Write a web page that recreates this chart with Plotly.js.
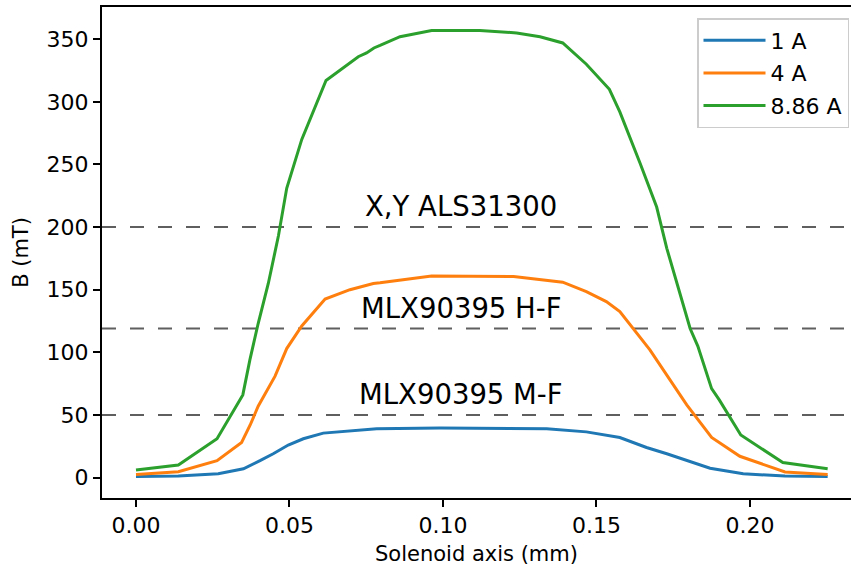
<!DOCTYPE html>
<html>
<head>
<meta charset="utf-8">
<script src="https://cdn.plot.ly/plotly-3.0.1.min.js"></script>
<style>html,body{margin:0;padding:0;background:#fff;overflow:hidden}</style>
</head>
<body>
<div id="chart" style="width:851px;height:572px"></div>
<script>
// Series 1 A
const x1A = [0, 0.0138, 0.0268, 0.035, 0.0404, 0.0447, 0.0496, 0.0545, 0.061, 0.0697, 0.0784, 0.099, 0.1338, 0.1467, 0.1576, 0.1663, 0.1729, 0.187, 0.1978, 0.2114, 0.2253];
const y1A = [0.8, 1.2, 3, 7, 13.5, 19, 26, 31, 35.5, 37.5, 39, 39.5, 39, 36.5, 32, 24, 19, 7.5, 3, 1.2, 0.8];
// Series 4 A
const x4A = [0, 0.0138, 0.0264, 0.0344, 0.0372, 0.0398, 0.0453, 0.0491, 0.054, 0.0616, 0.0697, 0.0773, 0.0795, 0.0963, 0.123, 0.139, 0.1467, 0.1532, 0.1576, 0.1674, 0.1794, 0.1875, 0.1967, 0.2114, 0.2253];
const y4A = [2.5, 4.7, 13.5, 28, 42, 57, 81, 103, 121, 142.5, 150, 155, 155.5, 161, 160.5, 156, 148.5, 140.5, 132.5, 102, 58, 32, 17, 4.5, 2.5];
// Series 8.86 A
const x886A = [0, 0.0138, 0.0264, 0.0348, 0.0371, 0.0398, 0.0431, 0.0464, 0.0491, 0.054, 0.0619, 0.0675, 0.0724, 0.0751, 0.0775, 0.0795, 0.086, 0.0963, 0.112, 0.124, 0.1316, 0.139, 0.1467, 0.1542, 0.1576, 0.1642, 0.1696, 0.1729, 0.1805, 0.183, 0.1875, 0.19, 0.197, 0.2107, 0.2253];
const y886A = [6, 10, 31, 66, 94, 123, 155, 193, 231, 270, 317, 327, 336, 339, 343, 345, 352, 357, 357, 355, 352, 347, 330, 310, 292, 251, 216, 183, 119, 105, 71, 62, 34, 12, 7];

const seriesNames = ["1 A", "4 A", "8.86 A"];
const seriesColors = ["#1f77b4", "#ff7f0e", "#2ca02c"];

// Sensor thresholds (mT)
const thresholdValues = [200, 119, 50];
const thresholdLabels = ["X,Y ALS31300", "MLX90395 H-F", "MLX90395 M-F"];
const labelX = 0.106;

const xTicks = [0, 0.05, 0.1, 0.15, 0.2];
const xTickText = ["0.00", "0.05", "0.10", "0.15", "0.20"];
const yTicks = [0, 50, 100, 150, 200, 250, 300, 350];

const FONT = "DejaVu Sans, sans-serif";
const xs = [x1A, x4A, x886A];
const ys = [y1A, y4A, y886A];

const traces = xs.map((x, i) => ({
  x: x, y: ys[i], type: "scatter", mode: "lines", name: seriesNames[i],
  legendgroup: "g" + i,
  line: {color: seriesColors[i], width: 3}
}));

const shapes = thresholdValues.map(v => ({
  type: "line", xref: "paper", x0: 0, x1: 1, yref: "y", y0: v, y1: v,
  line: {color: "#5f5f5f", width: 2, dash: "14px,14px"}, layer: "below"
}));

const annotations = thresholdValues.map((v, i) => ({
  x: labelX, y: v, xref: "x", yref: "y", text: thresholdLabels[i],
  showarrow: false, xanchor: "center", yanchor: "bottom", yshift: 3,
  font: {family: FONT, size: 27.5, color: "#000"}
}));

const layout = {
  width: 851, height: 572,
  margin: {l: 102, r: 0, t: 7, b: 74},
  paper_bgcolor: "#fff", plot_bgcolor: "#fff",
  showlegend: true,
  legend: {
    x: (849 - 102) / 749, xanchor: "right", y: 1 - 11 / 491, yanchor: "top",
    xref: "paper", yref: "paper",
    bgcolor: "rgba(255,255,255,0.8)", bordercolor: "#cccccc", borderwidth: 1.5,
    font: {family: FONT, size: 22, color: "#000"},
    tracegroupgap: 1, itemwidth: 62
  },
  xaxis: {
    range: [-0.01107, 0.2329], tickvals: xTicks, ticktext: xTickText,
    showgrid: false, zeroline: false,
    showline: true, mirror: true, linecolor: "#000", linewidth: 2,
    ticks: "outside", ticklen: 7, tickwidth: 2, tickcolor: "#000",
    tickfont: {family: FONT, size: 22, color: "#000"},
    title: {text: "Solenoid axis (mm)", font: {family: FONT, size: 21, color: "#000"}, standoff: 9}
  },
  yaxis: {
    range: [-16.3, 375.7], tickvals: yTicks,
    showgrid: false, zeroline: false,
    showline: true, mirror: false, linecolor: "#000", linewidth: 2,
    ticks: "outside", ticklen: 7, tickwidth: 2, tickcolor: "#000",
    tickfont: {family: FONT, size: 22, color: "#000"},
    title: {text: "B (mT)", font: {family: FONT, size: 21, color: "#000"}, standoff: 12}
  },
  shapes: shapes,
  annotations: annotations
};

Plotly.newPlot("chart", traces, layout, {displayModeBar: false, staticPlot: true});
</script>
</body>
</html>
